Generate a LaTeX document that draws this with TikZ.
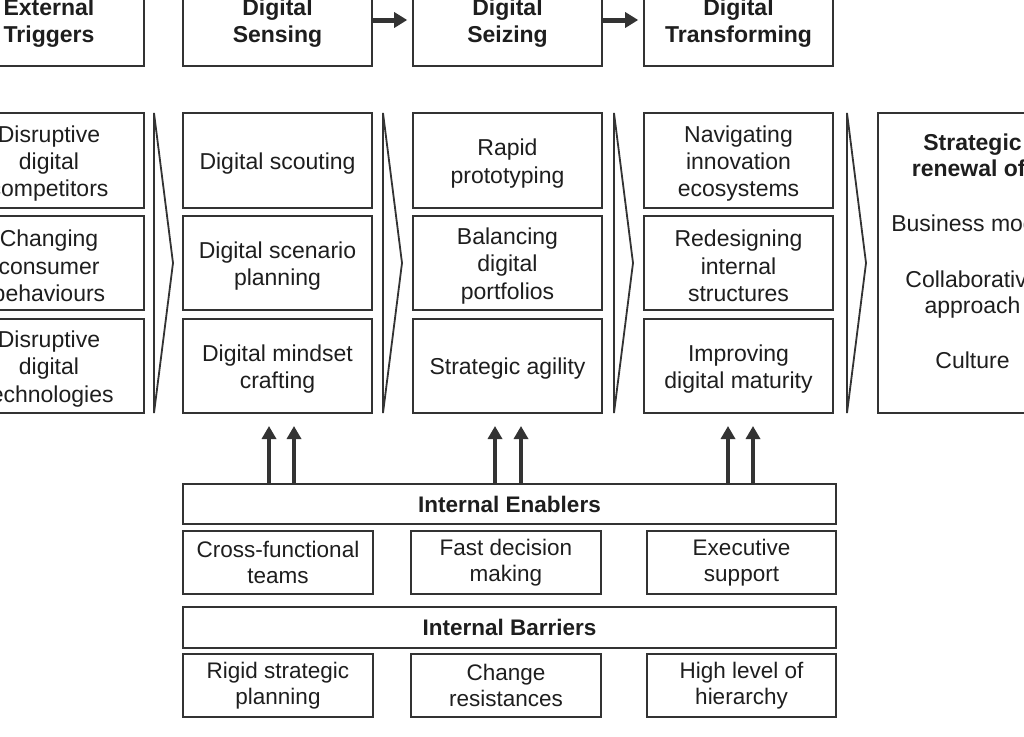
\documentclass[tikz,border=0pt]{standalone}
\usepackage{fontspec}
\setmainfont{Liberation Sans}
\usetikzlibrary{arrows.meta}
\definecolor{linec}{HTML}{333333}
\definecolor{textc}{HTML}{1E1E1E}
\newcommand\fsA{\fontsize{23}{27.3}\selectfont}
\newcommand\fsB{\fontsize{22.5}{26}\selectfont}
\newcommand\tp{\rule{0pt}{22.5pt}}
\begin{document}
\begin{tikzpicture}[x=1pt,y=-1pt,
  box/.style={draw=linec, line width=1.6pt, fill=white, inner sep=2pt, align=center, text=textc, font=\fsA, minimum width=189pt},
  hbox/.style={box, font=\fsA\bfseries, minimum height=92pt},
  mbox/.style={box},
  bbox/.style={box, font=\fsB, minimum height=63pt, minimum width=190pt},
  barbox/.style={box, font=\fsB\bfseries, minimum width=653pt},
  txt/.style={text=textc, font=\fsA, inner sep=0pt, text height=16.5pt, text depth=4.5pt},
  chev/.style={draw=linec, line width=1.8pt, line join=miter},
  hdarrow/.style={draw=linec, line width=5pt, -{Triangle[length=13pt,width=15pt]}, shorten >=5pt},
  uparrow/.style={draw=linec, line width=4pt, -{Triangle[length=13pt,width=14pt]}}
]
\useasboundingbox (0,0) rectangle (1024,736);
\fill[white] (0,0) rectangle (1024,736);
\clip (0,0) rectangle (1024,736);

% header row
\node[hbox, minimum width=190pt] (hTrig) at (49,20) {\tp External\\Triggers};
\node[hbox] (hSens) at (277.5,20) {\tp Digital\\Sensing};
\node[hbox] (hSeiz) at (507.5,20) {\tp Digital\\Seizing};
\node[hbox] (hTran) at (738.5,20) {\tp Digital\\Transforming};
\draw[hdarrow] (hSens) -- (hSeiz);
\draw[hdarrow] (hSeiz) -- (hTran);

% external triggers column
\node[mbox, minimum width=190pt, minimum height=95pt] (t1) at (49,160.5) {\tp Disruptive\\digital\\competitors};
\node[mbox, minimum width=190pt, minimum height=94pt] (t2) at (49,263) {\tp Changing\\consumer\\behaviours};
\node[mbox, minimum width=190pt, minimum height=94pt] (t3) at (49,366) {\tp Disruptive\\digital\\technologies};

% sensing column
\node[mbox, minimum height=95pt] (s1) at (277.5,160.5) {\tp Digital scouting};
\node[mbox, minimum height=94pt] (s2) at (277.5,263) {\tp Digital scenario\\planning};
\node[mbox, minimum height=94pt] (s3) at (277.5,366) {\tp Digital mindset\\crafting};

% seizing column
\node[mbox, minimum height=95pt] (z1) at (507.5,160.5) {\tp Rapid\\prototyping};
\node[mbox, minimum height=94pt] (z2) at (507.5,263) {\tp Balancing\\digital\\portfolios};
\node[mbox, minimum height=94pt] (z3) at (507.5,366) {\tp Strategic agility};

% transforming column
\node[mbox, minimum height=95pt] (r1) at (738.5,160.5) {\tp Navigating\\innovation\\ecosystems};
\node[mbox, minimum height=94pt] (r2) at (738.5,263) {\tp Redesigning\\internal\\structures};
\node[mbox, minimum height=94pt] (r3) at (738.5,366) {\tp Improving\\digital maturity};

% strategic renewal box
\node[box, minimum height=300pt] (strat) at (972.5,263) {};
\node[txt, font=\fsA\bfseries] (st1) at (972.5,144) {Strategic};
\node[txt, font=\fsA\bfseries] (st2) at (972.5,170) {renewal of:};
\node[txt] (st3) at (972.5,225) {Business model};
\node[txt] (st4) at (972.5,281) {Collaborative};
\node[txt] (st5) at (972.5,307) {approach};
\node[txt] (st6) at (972.5,362) {Culture};

% chevrons
\draw[chev] (154,113) -- (173,263) -- (154,413) -- cycle;
\draw[chev] (383,113) -- (402,263) -- (383,413) -- cycle;
\draw[chev] (614,113) -- (633,263) -- (614,413) -- cycle;
\draw[chev] (847,113) -- (866,263) -- (847,413) -- cycle;

% enablers and barriers
\node[barbox, minimum height=40pt] (enab) at (509.5,504) {Internal Enablers};
\node[bbox] (cross) at (278,562.5) {Cross-functional\\teams};
\node[bbox] (fast) at (506,562.5) {Fast decision\\making};
\node[bbox, minimum width=189pt] (exec) at (741.5,562.5) {Executive\\support};
\node[barbox, minimum height=41pt] (barr) at (509.5,627.5) {Internal Barriers};
\node[bbox] (rigid) at (278,685.5) {Rigid strategic\\planning};
\node[bbox] (change) at (506,685.5) {Change\\resistances};
\node[bbox, minimum width=189pt] (high) at (741.5,685.5) {High level of\\hierarchy};

% upward arrows
\coordinate (a1) at (269,426);
\coordinate (a2) at (294,426);
\coordinate (a3) at (495,426);
\coordinate (a4) at (521,426);
\coordinate (a5) at (728,426);
\coordinate (a6) at (753,426);
\foreach \c in {a1,a2,a3,a4,a5,a6}{
  \draw[uparrow] (enab.north -| \c) -- (\c);
}
\end{tikzpicture}
\end{document}
